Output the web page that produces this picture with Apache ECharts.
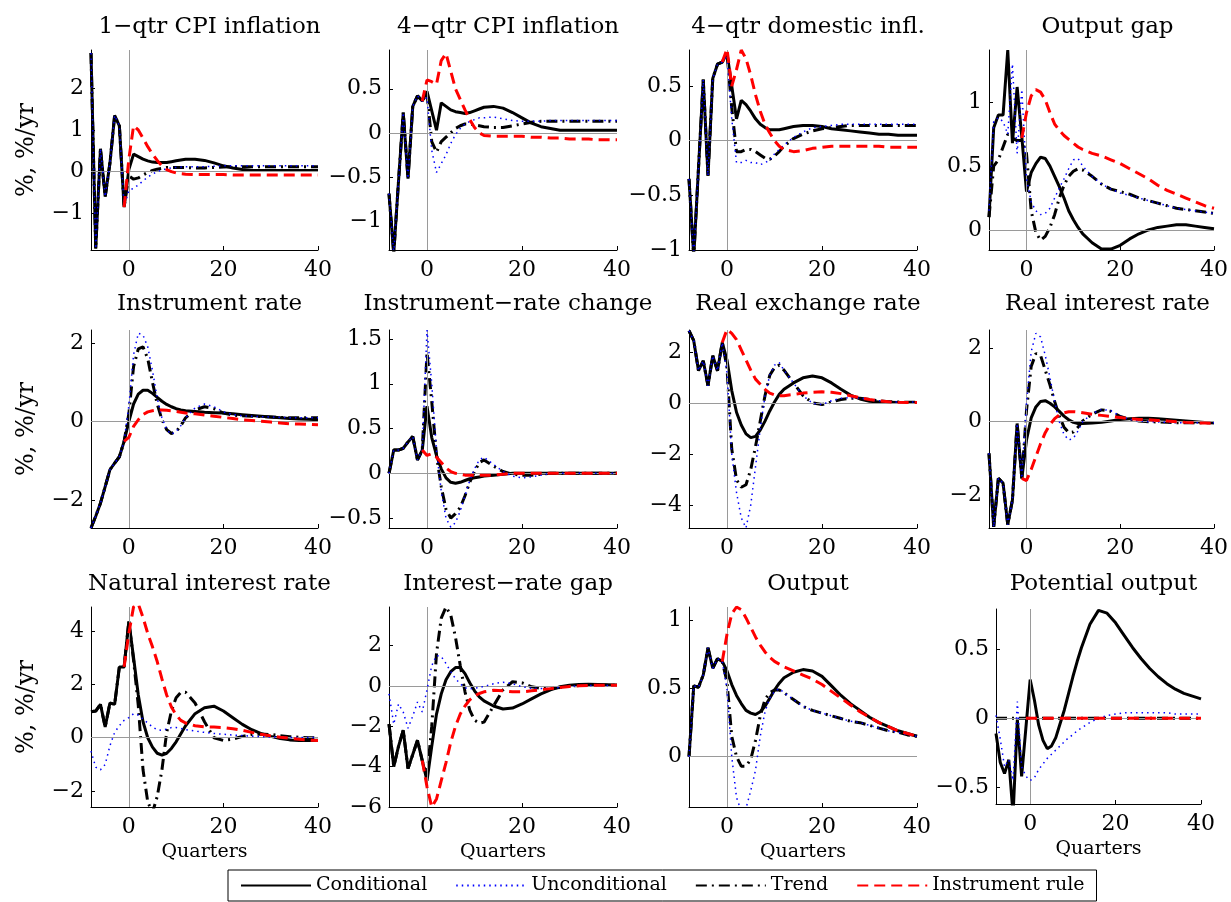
<!DOCTYPE html>
<html>
<head>
<meta charset="utf-8">
<script src="https://cdn.jsdelivr.net/npm/echarts@6.0.0/dist/echarts.min.js"></script>
<style>
html, body { margin: 0; padding: 0; background: #fff; }
#chart { width: 1231px; height: 902px; }
</style>
</head>
<body>
<div id="chart"></div>
<script>
// quarters: -8..12 every quarter, then every 2 quarters to 40
var quarters = [-8,-7,-6,-5,-4,-3,-2,-1,0,1,2,3,4,5,6,7,8,9,10,11,12,14,16,18,20,22,24,26,28,30,32,34,36,38,40];
var noHist = [null,null,null,null,null,null,null]; // instrument rule starts at quarter -1

// 1-qtr CPI inflation
var cpiQHist = [2.85,-1.85,0.55,-0.6,0.2,1.35,1.1,-0.85];
var cpiQCond = cpiQHist.concat([0.05, 0.42,0.36,0.3,0.26,0.23,0.22,0.22,0.22,0.24,0.26,0.28,0.3, 0.3,0.27,0.21,0.14,0.09,0.05,0.03,0.03,0.03,0.03,0.03,0.03,0.03,0.03]);
var cpiQTrend = cpiQHist.concat([-0.1, -0.18,-0.15,-0.08,-0.02,0.03,0.06,0.08,0.1,0.1,0.1,0.1,0.1, 0.09,0.09,0.1,0.11,0.12,0.12,0.12,0.12,0.12,0.12,0.12,0.12,0.12,0.12]);
var cpiQUncond = cpiQHist.concat([-0.45, -0.4,-0.32,-0.22,-0.13,-0.06,0.0,0.04,0.07,0.09,0.1,0.11,0.12, 0.12,0.12,0.13,0.14,0.14,0.14,0.14,0.14,0.14,0.14,0.14,0.14,0.14,0.14]);
var cpiQRule = noHist.concat([-0.85, 0.3, 1.1,1.0,0.8,0.6,0.42,0.27,0.14,0.05,0.0,-0.03,-0.05,-0.06, -0.07,-0.07,-0.07,-0.07,-0.08,-0.08,-0.08,-0.08,-0.08,-0.08,-0.08,-0.08,-0.08,-0.08]);
var cpiQTicks = [-1,0,1,2];

// 4-qtr CPI inflation
var cpiYHist = [-0.69,-1.37,-0.55,0.23,-0.52,0.3,0.42,0.36];
var cpiYCond = cpiYHist.concat([0.47, 0.25,0.03,0.34,0.3,0.26,0.24,0.23,0.22,0.23,0.25,0.27,0.29, 0.3,0.28,0.23,0.17,0.11,0.07,0.05,0.03,0.03,0.03,0.03,0.03,0.03,0.03]);
var cpiYTrend = cpiYHist.concat([0.45, -0.1,-0.22,-0.1,-0.05,0.0,0.05,0.08,0.1,0.1,0.09,0.08,0.07, 0.06,0.06,0.08,0.1,0.12,0.13,0.13,0.13,0.13,0.13,0.13,0.13,0.13,0.13]);
var cpiYUncond = cpiYHist.concat([0.4, -0.2,-0.45,-0.35,-0.25,-0.12,-0.02,0.05,0.1,0.13,0.15,0.17,0.17, 0.18,0.16,0.14,0.13,0.13,0.13,0.14,0.14,0.14,0.14,0.14,0.14,0.14,0.14]);
var cpiYRule = noHist.concat([0.36, 0.6, 0.58,0.55,0.82,0.9,0.7,0.5,0.38,0.26,0.15,0.06,0.0,-0.03, -0.04,-0.04,-0.04,-0.04,-0.05,-0.05,-0.06,-0.06,-0.07,-0.07,-0.07,-0.08,-0.08,-0.08]);
var cpiYTicks = [-1,-0.5,0,0.5];

// 4-qtr domestic inflation
var domHist = [-0.35,-1.06,-0.25,0.56,-0.32,0.57,0.7,0.72];
var domCond = domHist.concat([0.8, 0.5,0.2,0.37,0.33,0.27,0.2,0.15,0.12,0.1,0.1,0.1,0.11, 0.13,0.14,0.14,0.13,0.11,0.1,0.09,0.08,0.07,0.06,0.06,0.05,0.05,0.05]);
var domTrend = domHist.concat([0.8, 0.3,-0.1,-0.1,-0.08,-0.08,-0.1,-0.13,-0.16,-0.17,-0.14,-0.1,-0.05, 0.02,0.06,0.09,0.11,0.12,0.13,0.14,0.14,0.14,0.14,0.14,0.14,0.14,0.14]);
var domUncond = domHist.concat([0.78, 0.2,-0.2,-0.2,-0.18,-0.2,-0.2,-0.22,-0.2,-0.18,-0.12,-0.08,-0.04, 0.03,0.08,0.12,0.13,0.14,0.15,0.15,0.15,0.15,0.15,0.15,0.15,0.15,0.15]);
var domRule = noHist.concat([0.72, 0.84, 0.5,0.65,0.83,0.75,0.6,0.42,0.27,0.15,0.07,0.0,-0.05,-0.08, -0.1,-0.09,-0.07,-0.06,-0.05,-0.05,-0.05,-0.05,-0.05,-0.05,-0.06,-0.06,-0.06,-0.06]);
var domTicks = [-1,-0.5,0,0.5];

// Output gap
var gapCond = [0.1,0.8,0.9,0.9,1.41,0.68,1.12,0.73, 0.3, 0.45,0.52,0.57,0.56,0.5,0.42,0.34,0.25,0.15,0.08,0.02,-0.03, -0.1,-0.15,-0.15,-0.12,-0.07,-0.03,0.0,0.02,0.03,0.04,0.04,0.03,0.02,0.01];
var gapTrend = [0.1,0.5,0.55,0.65,0.75,0.72,0.7,0.7, 0.6, 0.15,-0.02,-0.08,-0.05,0.02,0.12,0.25,0.35,0.42,0.46,0.48,0.47, 0.42,0.36,0.32,0.3,0.28,0.25,0.23,0.21,0.19,0.17,0.16,0.15,0.14,0.13];
var gapUncond = [0.15,0.85,0.88,0.85,0.75,1.3,0.6,1.1, 0.4, 0.22,0.15,0.12,0.13,0.17,0.25,0.33,0.4,0.48,0.55,0.56,0.5, 0.42,0.36,0.32,0.29,0.27,0.25,0.23,0.21,0.19,0.17,0.16,0.15,0.14,0.13];
var gapRule = noHist.concat([0.72, 0.92, 1.05,1.1,1.08,1.02,0.92,0.83,0.78,0.74,0.71,0.68,0.65,0.63, 0.6,0.58,0.55,0.52,0.48,0.44,0.4,0.35,0.31,0.28,0.25,0.22,0.19,0.17]);
var gapTicks = [0,0.5,1];

// Instrument rate
var rateHist = [-2.7,-2.4,-2.07,-1.65,-1.22,-1.05,-0.89,-0.5];
var rateCond = rateHist.concat([0.0, 0.45,0.7,0.8,0.8,0.72,0.62,0.52,0.44,0.38,0.33,0.3,0.28, 0.26,0.24,0.23,0.22,0.2,0.18,0.16,0.14,0.12,0.1,0.08,0.07,0.06,0.05]);
var rateTrend = rateHist.concat([0.2, 1.4,1.85,1.9,1.6,1.0,0.45,0.05,-0.2,-0.3,-0.25,-0.1,0.1, 0.3,0.38,0.33,0.22,0.17,0.15,0.14,0.13,0.12,0.11,0.1,0.1,0.1,0.1]);
var rateUncond = rateHist.concat([0.4, 1.7,2.25,2.2,1.9,1.3,0.6,0.1,-0.2,-0.32,-0.25,-0.1,0.1, 0.35,0.45,0.38,0.25,0.18,0.15,0.14,0.13,0.12,0.11,0.1,0.1,0.1,0.1]);
var rateRule = noHist.concat([-0.5, -0.4, -0.12,0.05,0.18,0.25,0.28,0.3,0.3,0.29,0.28,0.26,0.24,0.22, 0.2,0.17,0.14,0.11,0.08,0.05,0.03,0.01,-0.01,-0.03,-0.05,-0.06,-0.07,-0.08]);
var rateTicks = [-2,0,2];

// Instrument-rate change
var dRateHist = [0.0,0.26,0.26,0.28,0.35,0.41,0.15,0.26];
var dRateCond = dRateHist.concat([0.75, 0.4,0.2,0.05,-0.05,-0.1,-0.11,-0.1,-0.08,-0.06,-0.05,-0.04,-0.03, -0.02,-0.01,0,0,0,0,0,0,0,0,0,0,0,0]);
var dRateTrend = dRateHist.concat([1.35, 0.8,0.2,-0.15,-0.4,-0.5,-0.45,-0.38,-0.25,-0.1,0.02,0.12,0.15, 0.08,0.02,-0.01,-0.02,-0.02,-0.01,0,0,0,0,0,0,0,0]);
var dRateUncond = dRateHist.concat([1.6, 1.0,0.25,-0.2,-0.5,-0.6,-0.55,-0.42,-0.25,-0.08,0.05,0.15,0.18, 0.1,0.02,-0.03,-0.05,-0.04,-0.02,0,0,0,0,0,0,0,0]);
var dRateRule = noHist.concat([0.26, 0.2, 0.22,0.18,0.12,0.06,0.02,0.0,-0.01,-0.02,-0.02,-0.02,-0.02,-0.02, -0.02,-0.01,0,0,0,0,0,0,0,0,0,0,0,0]);
var dRateTicks = [-0.5,0,0.5,1,1.5];

// Real exchange rate
var rerHist = [2.85,2.46,1.28,1.67,0.69,1.87,1.28,2.39];
var rerCond = rerHist.concat([1.7, 0.5,-0.35,-0.85,-1.2,-1.35,-1.3,-1.05,-0.7,-0.3,0.05,0.35,0.55, 0.8,1.0,1.07,1.0,0.8,0.55,0.32,0.17,0.08,0.05,0.04,0.03,0.03,0.03]);
var rerTrend = rerHist.concat([1.4, -1.8,-3.0,-3.3,-3.2,-2.6,-1.7,-0.7,0.3,1.1,1.4,1.5,1.3, 0.8,0.3,0.02,-0.05,0.05,0.15,0.2,0.2,0.15,0.1,0.06,0.05,0.04,0.04]);
var rerUncond = rerHist.concat([1.2, -2.0,-3.5,-4.5,-4.9,-4.0,-2.5,-1.0,0.3,1.1,1.5,1.6,1.3, 0.8,0.3,0.0,-0.05,0.1,0.2,0.22,0.2,0.15,0.1,0.07,0.05,0.05,0.05]);
var rerRule = noHist.concat([2.39, 2.9, 2.75,2.5,2.1,1.7,1.3,0.95,0.75,0.55,0.4,0.33,0.3,0.3, 0.35,0.4,0.43,0.45,0.43,0.38,0.3,0.22,0.15,0.1,0.06,0.04,0.03,0.03]);
var rerTicks = [-4,-2,0,2];

// Real interest rate
var rirHist = [-0.86,-2.86,-1.54,-1.67,-2.8,-2.13,-0.05,-1.54];
var rirCond = rirHist.concat([-0.5, 0.1,0.4,0.55,0.57,0.5,0.4,0.28,0.15,0.05,-0.02,-0.05,-0.05, -0.04,-0.02,0.02,0.06,0.08,0.09,0.09,0.08,0.06,0.04,0.02,0.0,-0.02,-0.03]);
var rirTrend = rirHist.concat([0.3, 1.5,1.85,1.8,1.4,1.0,0.55,0.15,-0.15,-0.3,-0.28,-0.15,0.02, 0.2,0.32,0.28,0.14,0.06,0.02,0.0,-0.01,-0.02,-0.03,-0.03,-0.03,-0.03,-0.03]);
var rirUncond = rirHist.concat([0.5, 1.9,2.4,2.3,1.8,1.2,0.55,0.0,-0.35,-0.5,-0.45,-0.25,0.0, 0.22,0.33,0.3,0.15,0.06,0.02,0.0,-0.01,-0.02,-0.03,-0.03,-0.03,-0.03,-0.03]);
var rirRule = noHist.concat([-1.54, -1.6, -1.3,-0.95,-0.6,-0.3,-0.08,0.08,0.18,0.24,0.27,0.27,0.26,0.24, 0.2,0.17,0.14,0.11,0.08,0.06,0.05,0.03,0.02,0.0,-0.02,-0.03,-0.04,-0.05]);
var rirTicks = [-2,0,2];

// Natural interest rate
var natHist = [0.97,1.0,1.25,0.4,1.3,1.25,2.65,2.65];
var natCond = natHist.concat([4.35, 3.0,1.6,0.6,0.0,-0.35,-0.58,-0.65,-0.58,-0.4,-0.15,0.15,0.45, 0.9,1.12,1.18,1.0,0.75,0.5,0.3,0.15,0.05,-0.03,-0.08,-0.1,-0.1,-0.09]);
var natTrend = natHist.concat([4.35, 2.9,1.2,-1.2,-2.4,-2.8,-2.2,-1.2,0.2,1.0,1.5,1.7,1.7, 1.3,0.6,0.0,-0.1,-0.05,0.05,0.12,0.14,0.12,0.08,0.04,0.02,0.0,0.0]);
var natUncond = [-0.5,-1.1,-1.2,-1.0,-0.3,0.2,0.45,0.65, 0.75, 0.9,0.85,0.7,0.55,0.4,0.3,0.28,0.32,0.38,0.38,0.35,0.3, 0.25,0.2,0.16,0.13,0.1,0.08,0.06,0.04,0.03,0.02,0.01,0.01,0.01,0.01];
var natRule = noHist.concat([2.65, 3.9, 4.9,5.0,4.5,3.9,3.4,2.85,2.2,1.6,1.15,0.85,0.65,0.55, 0.45,0.41,0.4,0.38,0.34,0.28,0.2,0.13,0.07,0.02,-0.02,-0.06,-0.09,-0.1]);
var natTicks = [-2,0,2,4];

// Interest-rate gap
var irgHist = [-1.9,-4.0,-3.0,-2.2,-4.1,-3.4,-2.7,-3.7];
var irgCond = irgHist.concat([-4.7, -3.0,-1.4,-0.4,0.3,0.7,0.9,0.9,0.6,0.15,-0.25,-0.55,-0.75, -1.0,-1.15,-1.1,-0.9,-0.65,-0.4,-0.2,-0.05,0.03,0.06,0.07,0.06,0.05,0.04]);
var irgTrend = irgHist.concat([-4.5, -2.0,1.6,3.35,3.9,3.5,2.4,1.0,-0.3,-1.2,-1.7,-1.85,-1.8, -1.0,-0.2,0.2,0.15,-0.05,-0.13,-0.13,-0.08,-0.02,0.02,0.04,0.04,0.03,0.03]);
var irgUncond = [-0.4,-1.9,-0.9,-1.3,-2.1,-1.5,-0.8,-1.3, -0.2, 1.0,1.5,1.45,1.1,0.7,0.35,0.1,-0.1,-0.15,-0.12,-0.08,-0.03, 0.1,0.18,0.1,-0.05,-0.12,-0.14,-0.12,-0.08,-0.04,0.0,0.02,0.02,0.02,0.02];
var irgRule = noHist.concat([-3.7, -5.0, -6.0,-5.6,-4.7,-3.8,-2.8,-2.0,-1.4,-1.0,-0.7,-0.5,-0.38,-0.3, -0.22,-0.25,-0.3,-0.3,-0.25,-0.2,-0.14,-0.08,-0.03,0.0,0.02,0.03,0.03,0.03]);
var irgTicks = [-6,-4,-2,0,2];

// Output
var outHist = [0.0,0.52,0.51,0.6,0.8,0.65,0.72,0.7];
var outCond = outHist.concat([0.63, 0.53,0.45,0.39,0.34,0.32,0.31,0.33,0.37,0.43,0.49,0.54,0.58, 0.62,0.64,0.63,0.59,0.52,0.45,0.39,0.34,0.29,0.25,0.22,0.19,0.17,0.15]);
var outTrend = outHist.concat([0.55, 0.15,0.0,-0.07,-0.07,-0.02,0.12,0.3,0.42,0.47,0.49,0.49,0.47, 0.42,0.37,0.34,0.32,0.3,0.28,0.26,0.25,0.23,0.21,0.19,0.18,0.16,0.15]);
var outUncond = outHist.concat([0.5, 0.0,-0.3,-0.4,-0.38,-0.25,-0.1,0.15,0.33,0.43,0.48,0.5,0.47, 0.42,0.37,0.34,0.32,0.3,0.28,0.26,0.25,0.23,0.21,0.19,0.18,0.16,0.15]);
var outRule = noHist.concat([0.7, 0.9, 1.05,1.1,1.08,1.02,0.95,0.88,0.82,0.77,0.73,0.7,0.68,0.66, 0.63,0.6,0.57,0.53,0.48,0.43,0.38,0.33,0.29,0.25,0.22,0.19,0.17,0.15]);
var outTicks = [0,0.5,1];

// Potential output
var potCond = [-0.11,-0.32,-0.4,-0.3,-0.7,-0.01,-0.42,-0.07, 0.28, 0.13,-0.05,-0.16,-0.22,-0.2,-0.14,-0.04,0.06,0.18,0.3,0.41,0.51, 0.68,0.78,0.76,0.69,0.6,0.51,0.43,0.36,0.3,0.25,0.21,0.18,0.16,0.14];
var potTrend = [0,0,0,0,0,0,0,0, 0, 0,0,0,0,0,0,0,0,0,0,0,0, 0,0,0,0,0,0,0,0,0,0,0,0,0,0];
var potUncond = [0.02,-0.15,-0.35,-0.3,-0.45,0.12,-0.35,-0.42, -0.45, -0.43,-0.37,-0.33,-0.29,-0.26,-0.23,-0.2,-0.17,-0.14,-0.12,-0.09,-0.07, -0.03,0.0,0.02,0.03,0.04,0.04,0.04,0.04,0.04,0.04,0.03,0.03,0.03,0.03];
var potRule = noHist.concat([0, 0, 0,0,0,0,0,0,0,0,0,0,0,0, 0,0,0,0,0,0,0,0,0,0,0,0,0,0]);
var potTicks = [-0.5,0,0.5];

var xTicks = [0,20,40];

var panels = [
    {title:'1\u2212qtr CPI inflation', yMin:-1.88, yMax:2.92, ticks:cpiQTicks, cond:cpiQCond, uncond:cpiQUncond, trend:cpiQTrend, rule:cpiQRule},
    {title:'4\u2212qtr CPI inflation', yMin:-1.33, yMax:0.94, ticks:cpiYTicks, cond:cpiYCond, uncond:cpiYUncond, trend:cpiYTrend, rule:cpiYRule},
    {title:'4\u2212qtr domestic infl.', yMin:-1.0, yMax:0.83, ticks:domTicks, cond:domCond, uncond:domUncond, trend:domTrend, rule:domRule},
    {title:'Output gap', yMin:-0.157, yMax:1.41, ticks:gapTicks, cond:gapCond, uncond:gapUncond, trend:gapTrend, rule:gapRule},
    {title:'Instrument rate', yMin:-2.7, yMax:2.33, ticks:rateTicks, cond:rateCond, uncond:rateUncond, trend:rateTrend, rule:rateRule},
    {title:'Instrument\u2212rate change', yMin:-0.61, yMax:1.6, ticks:dRateTicks, cond:dRateCond, uncond:dRateUncond, trend:dRateTrend, rule:dRateRule},
    {title:'Real exchange rate', yMin:-4.9, yMax:2.88, ticks:rerTicks, cond:rerCond, uncond:rerUncond, trend:rerTrend, rule:rerRule},
    {title:'Real interest rate', yMin:-2.89, yMax:2.49, ticks:rirTicks, cond:rirCond, uncond:rirUncond, trend:rirTrend, rule:rirRule},
    {title:'Natural interest rate', yMin:-2.59, yMax:4.89, ticks:natTicks, cond:natCond, uncond:natUncond, trend:natTrend, rule:natRule},
    {title:'Interest\u2212rate gap', yMin:-6, yMax:3.9, ticks:irgTicks, cond:irgCond, uncond:irgUncond, trend:irgTrend, rule:irgRule},
    {title:'Output', yMin:-0.37, yMax:1.1, ticks:outTicks, cond:outCond, uncond:outUncond, trend:outTrend, rule:outRule},
    {title:'Potential output', yMin:-0.62, yMax:0.79, ticks:potTicks, cond:potCond, uncond:potUncond, trend:potTrend, rule:potRule}
];

var font = "'DejaVu Serif', serif";
var colLeft = [91, 389, 689, 989];
var colWidth = [227, 228, 228, 227];
var rowTop = [50, 330, 607];
var rowHeight = [200, 198, 200];
var titleTop = [11, 288, 568];

function pairs(vals) {
    var out = [];
    for (var i = 0; i < quarters.length; i++) {
        if (vals[i] !== null && vals[i] !== undefined) out.push([quarters[i], vals[i]]);
    }
    return out;
}
function minusFmt(v) { return String(v).replace('-', '\u2212'); }

var styles = [
    {key:'cond', name:'Conditional', color:'#000000', width:3, type:'solid', z:3},
    {key:'trend', name:'Trend', color:'#000000', width:3, type:[11,5,2,5], z:4},
    {key:'uncond', name:'Unconditional', color:'#0000ff', width:1.5, type:[1.5,4], z:5},
    {key:'rule', name:'Instrument rule', color:'#ff0000', width:3, type:[11,6], z:6}
];

var grids = [], xAxes = [], yAxes = [], titles = [], series = [];

panels.forEach(function (p, i) {
    var row = Math.floor(i / 4), col = i % 4;
    var g = {left: colLeft[col], top: rowTop[row], width: colWidth[col], height: rowHeight[row]};
    if (i === 11) g = {left: 996, top: 609, width: 205, height: 195};
    grids.push(g);

    titles.push({
        text: p.title, left: g.left + g.width / 2, top: titleTop[row], textAlign: 'center',
        textStyle: {fontFamily: font, fontSize: 23, fontWeight: 'normal', color: '#000'}
    });

    xAxes.push({
        gridIndex: i, type: 'value', min: -8, max: 40,
        name: row === 2 ? 'Quarters' : '', nameLocation: 'middle', nameGap: 36,
        nameTextStyle: {fontFamily: font, fontSize: 19, color: '#000'},
        axisLine: {show: true, onZero: false, lineStyle: {color: '#000', width: 1}},
        axisTick: {show: true, inside: true, length: 4, customValues: xTicks, lineStyle: {color: '#000'}},
        axisLabel: {customValues: xTicks, color: '#000', fontFamily: font, fontSize: 22, margin: 9, formatter: minusFmt},
        splitLine: {show: false}
    });

    yAxes.push({
        gridIndex: i, type: 'value', min: p.yMin, max: p.yMax,
        name: col === 0 ? '%, %/yr' : '', nameLocation: 'middle', nameGap: 52, nameRotate: 90,
        nameTextStyle: {fontFamily: font, fontSize: 24, color: '#000'},
        axisLine: {show: true, onZero: false, lineStyle: {color: '#000', width: 1}},
        axisTick: {show: true, inside: true, length: 4, customValues: p.ticks, lineStyle: {color: '#000'}},
        axisLabel: {customValues: p.ticks, color: '#000', fontFamily: font, fontSize: 22, margin: 7, formatter: minusFmt},
        splitLine: {show: false}
    });

    // grey reference lines at zero
    series.push({
        type: 'line', xAxisIndex: i, yAxisIndex: i, data: [[0, 0]], symbol: 'none', z: 1,
        lineStyle: {opacity: 0}, silent: true,
        markLine: {
            silent: true, symbol: 'none', label: {show: false}, animation: false,
            lineStyle: {color: '#9a9a9a', width: 1, type: 'solid'},
            data: [{yAxis: 0}, {xAxis: 0}]
        }
    });

    styles.forEach(function (s) {
        series.push({
            name: s.name, type: 'line', xAxisIndex: i, yAxisIndex: i,
            data: pairs(p[s.key]), symbol: 'none', showSymbol: false, z: s.z,
            color: s.color, clip: true,
            lineStyle: {color: s.color, width: s.width, type: s.type}
        });
    });
});

var chart = echarts.init(document.getElementById('chart'));
chart.setOption({
    animation: false,
    backgroundColor: '#fff',
    title: titles,
    grid: grids,
    xAxis: xAxes,
    yAxis: yAxes,
    legend: {
        data: ['Conditional', 'Unconditional', 'Trend', 'Instrument rule'],
        left: 228, top: 870, itemWidth: 70, itemHeight: 16, itemGap: 28,
        padding: [6, 12], borderColor: '#000', borderWidth: 1,
        itemStyle: {opacity: 0, borderWidth: 0},
        textStyle: {fontFamily: font, fontSize: 19, color: '#000'}
    },
    series: series
});
</script>
</body>
</html>
